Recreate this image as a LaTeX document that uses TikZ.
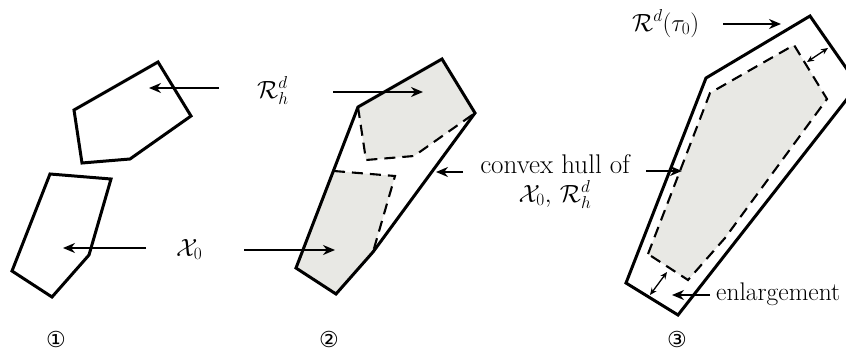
\documentclass[tikz,border=0pt]{standalone}
\usepackage{fontspec}
\newfontfamily\circfont{DejaVu Sans}
\usetikzlibrary{arrows.meta}
\definecolor{hullgray}{RGB}{232,232,228}
\begin{document}
\begin{tikzpicture}[x=1pt,y=-1pt,
  solidline/.style={line width=3pt, line join=miter},
  dashline/.style={line width=2.1pt, dash pattern=on 11pt off 7pt},
  arr/.style={line width=1.9pt, -{Stealth[length=12pt,width=10pt]}},
  darr/.style={line width=1.3pt, {Stealth[length=7pt,width=6pt]}-{Stealth[length=7pt,width=6pt]}},
  lbl/.style={font=\fontsize{27}{32}\selectfont, inner sep=0pt},
  num/.style={font=\circfont\fontsize{22}{22}\selectfont, inner sep=0pt}]
\useasboundingbox (0,0) rectangle (846,351);
\clip (0,0) rectangle (846,351);

% ---- panel 1
\draw[solidline] (74,110) -- (158,62) -- (191,116) -- (130,159) -- (82,163) -- cycle;
\draw[solidline] (50,174) -- (111,179) -- (89,255) -- (52,297) -- (12,271) -- cycle;

% ---- panel 2
\fill[hullgray] (358,107) -- (442,59) -- (475,113) -- (414,156) -- (366,160) -- cycle;
\fill[hullgray] (334,171) -- (395,176) -- (373,252) -- (336,294) -- (296,268) -- cycle;
\draw[dashline] (358,107) -- (366,160) -- (414,156) -- (475,113);
\draw[dashline] (334,171) -- (395,176) -- (373,252);
\draw[solidline] (296,268) -- (358,107) -- (442,59) -- (475,113) -- (373,252) -- (336,294) -- cycle;

% ---- panel 3
\fill[hullgray] (648,254) -- (710,93) -- (794,45) -- (827,99) -- (725,238) -- (688,280) -- cycle;
\draw[dashline] (648,254) -- (710,93) -- (794,45) -- (827,99) -- (725,238) -- (688,280) -- cycle;
\draw[solidline] (626,283) -- (706,78) -- (810,16) -- (858,85) -- (678,315) -- cycle;

% ---- labels
\node[lbl, anchor=base west] (rhd) at (257,98) {$\mathcal{R}_h^d$};
\node[lbl, anchor=base west] (x0) at (176,256) {$\mathcal{X}_0$};
\node[lbl, anchor=base] (hull1) at (555,173) {convex hull of};
\node[lbl, anchor=base] (hull2) at (555,202) {$\mathcal{X}_0,\,\mathcal{R}_h^d$};
\node[lbl, anchor=base west] (rtau) at (632,31) {$\mathcal{R}^d(\tau_0)$};
\node[lbl, font=\fontsize{25.5}{30}\selectfont, anchor=base west] (enl) at (716,300) {enlargement};
\node[num] (n1) at (56,339) {①};
\node[num] (n2) at (329,339) {②};
\node[num] (n3) at (677,339) {③};

% ---- arrow end points
\coordinate (a1s) at (219,88);  \coordinate (a1e) at (149,88);
\coordinate (a2s) at (333,92);  \coordinate (a2e) at (423,92);
\coordinate (a3s) at (146,248); \coordinate (a3e) at (63,248);
\coordinate (a4s) at (244,250); \coordinate (a4e) at (335,250);
\coordinate (a5s) at (463,172); \coordinate (a5e) at (436,172);
\coordinate (a6s) at (646,171); \coordinate (a6e) at (682,171);
\coordinate (a7s) at (723,24);  \coordinate (a7e) at (781,24);
\coordinate (a8s) at (710,295); \coordinate (a8e) at (672,295);
\coordinate (d1s) at (807,62);  \coordinate (d1e) at (828,48);
\coordinate (d2s) at (650,295); \coordinate (d2e) at (667,272);

\draw[arr] (a1s) -- (a1e);
\draw[arr] (a2s) -- (a2e);
\draw[arr] (a3s) -- (a3e);
\draw[arr] (a4s) -- (a4e);
\draw[arr] (a5s) -- (a5e);
\draw[arr] (a6s) -- (a6e);
\draw[arr] (a7s) -- (a7e);
\draw[arr] (a8s) -- (a8e);
\draw[darr] (d1s) -- (d1e);
\draw[darr] (d2s) -- (d2e);
\end{tikzpicture}
\end{document}
